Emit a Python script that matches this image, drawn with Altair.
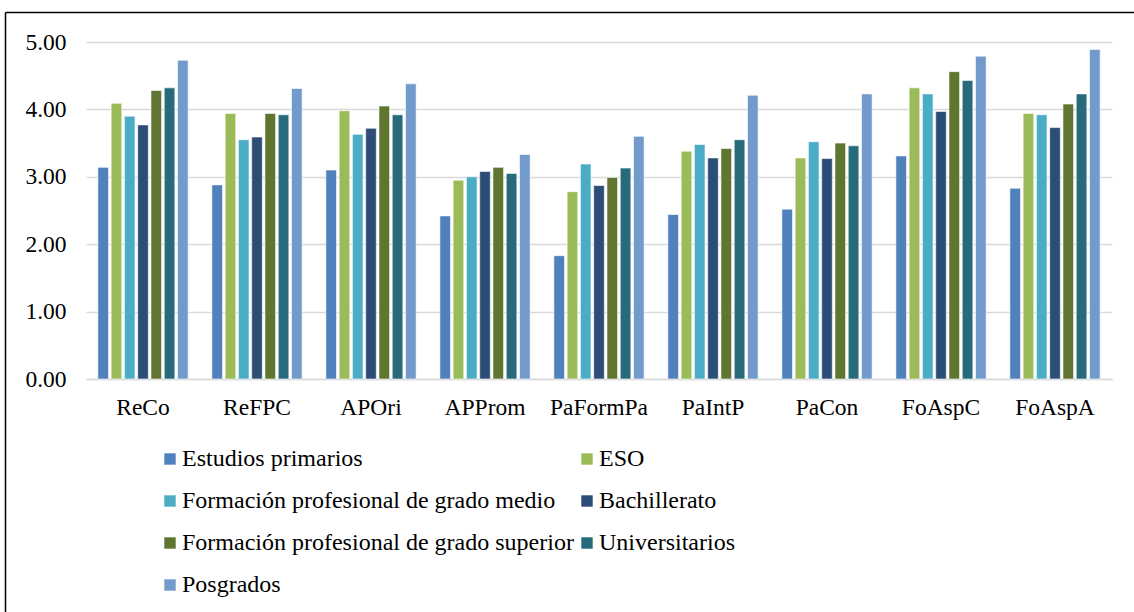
import altair as alt
import pandas as pd

# Dimension labels along the x axis
categories = ["ReCo", "ReFPC", "APOri", "APProm", "PaFormPa", "PaIntP", "PaCon", "FoAspC", "FoAspA"]

# Education levels (series) and their colours
levels = [
    "Estudios primarios",
    "ESO",
    "Formación profesional de grado medio",
    "Bachillerato",
    "Formación profesional de grado superior",
    "Universitarios",
    "Posgrados",
]
colors = ["#4F81BD", "#9BBB59", "#4BACC6", "#2C4D75", "#5F7530", "#276A7C", "#729ACA"]

# Mean scores per education level, one value per dimension
estudios_primarios = [3.14, 2.88, 3.10, 2.42, 1.83, 2.44, 2.52, 3.31, 2.83]
eso = [4.09, 3.94, 3.98, 2.95, 2.78, 3.38, 3.28, 4.32, 3.94]
fp_medio = [3.90, 3.55, 3.63, 3.00, 3.19, 3.48, 3.52, 4.23, 3.92]
bachillerato = [3.77, 3.59, 3.72, 3.08, 2.87, 3.28, 3.27, 3.97, 3.73]
fp_superior = [4.28, 3.94, 4.05, 3.14, 2.99, 3.42, 3.50, 4.56, 4.08]
universitarios = [4.32, 3.92, 3.92, 3.05, 3.13, 3.55, 3.46, 4.43, 4.23]
posgrados = [4.73, 4.31, 4.38, 3.33, 3.60, 4.21, 4.23, 4.79, 4.89]

series = [estudios_primarios, eso, fp_medio, bachillerato, fp_superior, universitarios, posgrados]

rows = []
for level, vals in zip(levels, series):
    for cat, v in zip(categories, vals):
        rows.append({"categoria": cat, "nivel": level, "valor": v})
df = pd.DataFrame(rows)

FONT = "Liberation Serif"

bars = alt.Chart(df).mark_bar(stroke="white", strokeWidth=0.6).encode(
    x=alt.X(
        "categoria:N",
        sort=categories,
        title=None,
        scale=alt.Scale(paddingInner=0.185, paddingOuter=0.0925),
        axis=alt.Axis(
            labelAngle=0,
            labelPadding=16,
            ticks=False,
            domainColor="#D9D9D9",
            domainWidth=1.5,
        ),
    ),
    xOffset=alt.XOffset(
        "nivel:N",
        sort=levels,
        scale=alt.Scale(paddingInner=0.2, paddingOuter=0.1),
    ),
    y=alt.Y(
        "valor:Q",
        title=None,
        scale=alt.Scale(domain=[0, 5], nice=False),
        axis=alt.Axis(
            values=[0, 1, 2, 3, 4, 5],
            format=".2f",
            labelPadding=20,
            ticks=False,
            domain=False,
            gridColor="#D9D9D9",
            gridWidth=1.5,
        ),
    ),
    color=alt.Color(
        "nivel:N",
        sort=levels,
        scale=alt.Scale(domain=levels, range=colors),
        legend=alt.Legend(
            title=None,
            orient="none",
            direction="horizontal",
            legendX=72,
            legendY=405,
            columns=2,
            columnPadding=1,
            rowPadding=18,
            symbolType="square",
            symbolSize=130,
            symbolStrokeWidth=0,
            labelOffset=0,
            labelLimit=600,
        ),
    ),
)

# Outer frame around the whole figure
frame_src = pd.DataFrame({"k": [0]})
frame_left = alt.Chart(frame_src).mark_rule(color="#000000", strokeWidth=1.5).encode(
    x=alt.value(-80.5), y=alt.value(-29.5), y2=alt.value(800)
)
frame_top = alt.Chart(frame_src).mark_rule(color="#000000", strokeWidth=1.5).encode(
    y=alt.value(-29.5), x=alt.value(-80.5), x2=alt.value(1300)
)

chart = (
    alt.layer(bars, frame_left, frame_top)
    .properties(
        width=1026,
        height=337,
        autosize=alt.AutoSizeParams(type="none"),
        padding={"left": 86, "top": 42, "right": 22, "bottom": 233},
        background="white",
    )
    .configure(font=FONT)
    .configure_view(stroke=None)
    .configure_axis(labelFont=FONT, labelFontSize=23.5, labelColor="#000000")
    .configure_legend(labelFont=FONT, labelFontSize=24, labelColor="#000000")
)

chart.save("out.html", embed_options={"renderer": "svg", "actions": False})
